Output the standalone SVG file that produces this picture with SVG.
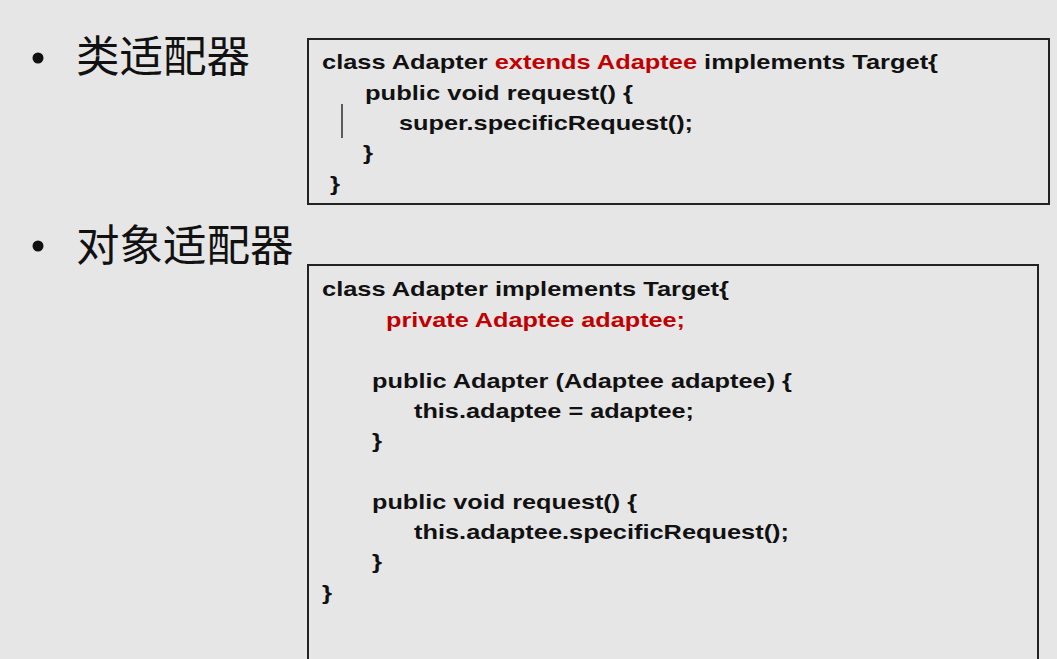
<svg xmlns="http://www.w3.org/2000/svg" width="1057" height="659" viewBox="0 0 1057 659">
<style>
.code{font-family:"Liberation Sans",Arial,sans-serif;font-weight:bold;font-size:21px;fill:#111}
.red{fill:#c00000}
.head{font-family:"Noto Sans CJK SC","Liberation Sans",sans-serif;font-size:43.5px;fill:#111}
.box{fill:none;stroke:#222;stroke-width:2}
</style>
<rect x="0" y="0" width="1057" height="659" fill="#e6e6e6"/>
<g id="heading1">
<circle cx="38" cy="58" r="5.5" fill="#111"/>
<text class="head" x="76" y="72">类适配器</text>
</g>
<g id="heading2">
<circle cx="38" cy="246" r="5.5" fill="#111"/>
<text class="head" x="76" y="261">对象适配器</text>
</g>
<g id="classAdapter">
<rect class="box" x="308" y="39" width="741" height="165"/>
<text class="code" x="322" y="69" textLength="616" lengthAdjust="spacingAndGlyphs">class Adapter <tspan class="red">extends Adaptee</tspan> implements Target{</text>
<text class="code" x="365" y="100" textLength="268" lengthAdjust="spacingAndGlyphs">public void request() {</text>
<line x1="342" y1="104" x2="342" y2="138" stroke="#111" stroke-width="1.3"/>
<text class="code" x="399" y="130" textLength="294" lengthAdjust="spacingAndGlyphs">super.specificRequest();</text>
<text class="code" x="363" y="160" textLength="10" lengthAdjust="spacingAndGlyphs">}</text>
<text class="code" x="330" y="191" textLength="10" lengthAdjust="spacingAndGlyphs">}</text>
</g>
<g id="objectAdapter">
<rect class="box" x="308" y="265" width="730" height="420"/>
<text class="code" x="322" y="296" textLength="407" lengthAdjust="spacingAndGlyphs">class Adapter implements Target{</text>
<text class="code red" x="386" y="327" textLength="299" lengthAdjust="spacingAndGlyphs">private Adaptee adaptee;</text>
<text class="code" x="372" y="388" textLength="420" lengthAdjust="spacingAndGlyphs">public Adapter (Adaptee adaptee) {</text>
<text class="code" x="414" y="418" textLength="280" lengthAdjust="spacingAndGlyphs">this.adaptee = adaptee;</text>
<text class="code" x="372" y="448" textLength="10" lengthAdjust="spacingAndGlyphs">}</text>
<text class="code" x="372" y="509" textLength="265" lengthAdjust="spacingAndGlyphs">public void request() {</text>
<text class="code" x="414" y="539" textLength="375" lengthAdjust="spacingAndGlyphs">this.adaptee.specificRequest();</text>
<text class="code" x="372" y="569" textLength="10" lengthAdjust="spacingAndGlyphs">}</text>
<text class="code" x="322" y="600" textLength="10" lengthAdjust="spacingAndGlyphs">}</text>
</g>
<g id="connectors"></g>
</svg>
